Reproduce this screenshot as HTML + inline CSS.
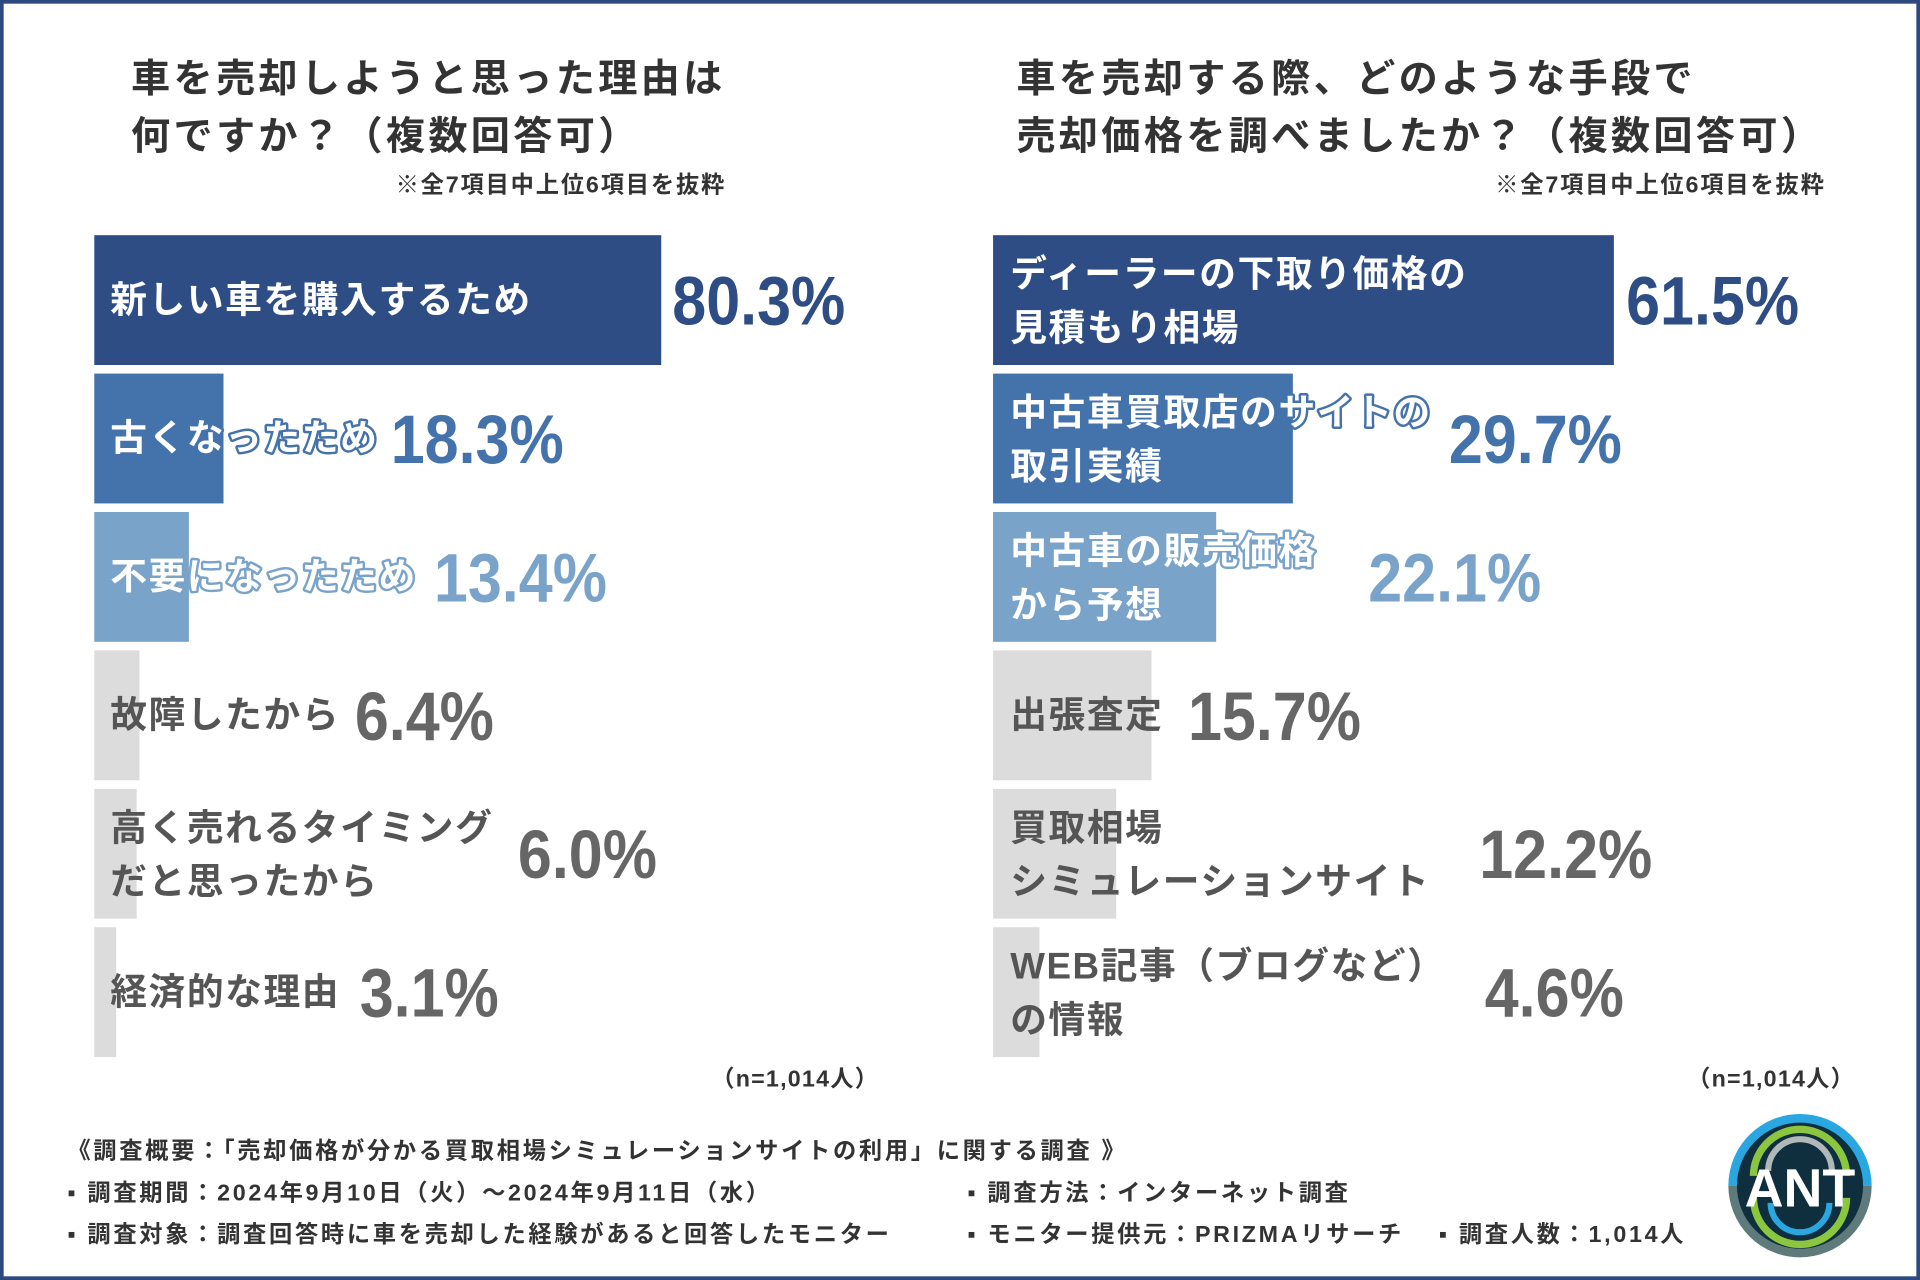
<!DOCTYPE html>
<html><head><meta charset="utf-8">
<style>
html,body{margin:0;padding:0;background:#fff;}
svg{display:block;}
text{font-family:"Liberation Sans","Noto Sans CJK JP",sans-serif;font-weight:bold;}
.val{font-family:"Liberation Sans",sans-serif;font-weight:bold;}
</style></head>
<body>
<svg id="chart" width="1920" height="1280" viewBox="0 0 1568 1045" preserveAspectRatio="none" xmlns="http://www.w3.org/2000/svg">
<rect x="1.5" y="1.5" width="1565" height="1042" fill="#fff" stroke="#2c4a80" stroke-width="3"/>
<g fill="#333" font-size="32" letter-spacing="2.7">
<text x="107" y="75">車を売却しようと思った理由は</text>
<text x="107" y="122">何ですか？（複数回答可）</text>
</g>
<text x="593" y="157" font-size="19" letter-spacing="1.5" fill="#333" text-anchor="end">※全7項目中上位6項目を抜粋</text>
<g fill="#333" font-size="32" letter-spacing="2.7">
<text x="830" y="75">車を売却する際、どのような手段で</text>
<text x="830" y="122">売却価格を調べましたか？（複数回答可）</text>
</g>
<text x="1491" y="157" font-size="19" letter-spacing="1.5" fill="#333" text-anchor="end">※全7項目中上位6項目を抜粋</text>
<g id="leftG"></g>
<g id="rightG"></g>
<text x="718" y="887" font-size="19" letter-spacing="1" fill="#333" text-anchor="end">（n=1,014人）</text>
<text x="1515" y="887" font-size="19" letter-spacing="1" fill="#333" text-anchor="end">（n=1,014人）</text>
<g font-size="19" letter-spacing="2.2" fill="#333">
<text x="55" y="946">《調査概要：「売却価格が分かる買取相場シミュレーションサイトの利用」に関する調査 》</text>
<text x="55" y="980">▪ 調査期間：2024年9月10日（火）～2024年9月11日（水）</text>
<text x="790" y="980">▪ 調査方法：インターネット調査</text>
<text x="55" y="1014">▪ 調査対象：調査回答時に車を売却した経験があると回答したモニター</text>
<text x="790" y="1014">▪ モニター提供元：PRIZMAリサーチ</text>
<text x="1175" y="1014">▪ 調査人数：1,014人</text>
</g>
<g fill="none">
<circle cx="1470" cy="968" r="52" fill="#0f2f3f"/>
<path d="M1415 968 A55 55 0 0 1 1525 968" stroke="#2aa7e0" stroke-width="7"/>
<path d="M1415 968 A55 55 0 0 0 1525 968" stroke="#5f7a7a" stroke-width="7"/>
<path d="M1432 960 A38 38 0 0 1 1508 960" stroke="#8cc63f" stroke-width="6"/>
<path d="M1432 978 A38 38 0 0 0 1508 978" stroke="#8cc63f" stroke-width="6"/>
<path d="M1444 956 A26 26 0 0 1 1496 956" stroke="#b0b8b8" stroke-width="5"/>
<path d="M1446 982 A24 24 0 0 0 1494 982" stroke="#2aa7e0" stroke-width="5"/>
<text x="1470" y="985" font-size="44" fill="#fff" text-anchor="middle" font-weight="bold" style="font-family:'Liberation Sans',sans-serif">ANT</text>
</g>
</svg>
<script>
const leftLabels=[["新しい車を購入するため"],["古くなったため"],["不要になったため"],["故障したから"],["高く売れるタイミング","だと思ったから"],["経済的な理由"]];
const leftValues=[80.3,18.3,13.4,6.4,6.0,3.1];
const rightLabels=[["ディーラーの下取り価格の","見積もり相場"],["中古車買取店のサイトの","取引実績"],["中古車の販売価格","から予想"],["出張査定"],["買取相場","シミュレーションサイト"],["WEB記事（ブログなど）","の情報"]];
const rightValues=[61.5,29.7,22.1,15.7,12.2,4.6];
const colors=["#2e4d85","#4472ab","#7aa3c9","#dcdcdc","#dcdcdc","#dcdcdc"];
const valColors=["#2e4d85","#4472ab","#7aa3c9","#666","#666","#666"];
const NS="http://www.w3.org/2000/svg";
function draw(g,labels,values,x0,pxPer,labelX,gaps,prefix){
  const xs=v=>v*pxPer;
  const rowY=i=>192+i*113;
  for(let i=0;i<values.length;i++){
    const y=rowY(i), w=xs(values[i]);
    const r=document.createElementNS(NS,'rect');
    r.setAttribute('x',x0);r.setAttribute('y',y);r.setAttribute('width',w);r.setAttribute('height',106);r.setAttribute('fill',colors[i]);
    
    
    g.appendChild(r);
    const t=document.createElementNS(NS,'text');
    t.setAttribute('font-size','30');
    t.setAttribute('letter-spacing','1.3');
    const gray=i>=3;
    t.setAttribute('fill',gray?'#555':'#fff');
    if(!gray){t.setAttribute('stroke',colors[i]);t.setAttribute('stroke-width','4');t.setAttribute('paint-order','stroke');t.setAttribute('stroke-linejoin','round');}
    
    
    const ls=labels[i];
    const baseY=ls.length===1?y+63:y+42;
    ls.forEach((s,k)=>{const sp=document.createElementNS(NS,'tspan');sp.setAttribute('x',labelX);sp.setAttribute('y',baseY+k*44);sp.textContent=s;t.appendChild(sp);});
    g.appendChild(t);
    let le=labelX;try{let m=0;t.querySelectorAll('tspan').forEach(sp=>{m=Math.max(m,sp.getComputedTextLength());});le=labelX+m;}catch(e){}
    const vx=Math.max(x0+w,le)+gaps[i];
    const v=document.createElementNS(NS,'text');
    v.setAttribute('class','val');v.setAttribute('x',vx);v.setAttribute('y',y+73);v.setAttribute('font-size','56');v.setAttribute('fill',valColors[i]);
    
    
    v.textContent=values[i].toFixed(1)+'%';
    g.appendChild(v);
    try{const L=v.getComputedTextLength();v.setAttribute('textLength',L*0.89);v.setAttribute('lengthAdjust','spacingAndGlyphs');}catch(e){}
  }
}
draw(document.getElementById('leftG'),leftLabels,leftValues,77,5.766,90,[9,10,14,12,20,16],'left');
draw(document.getElementById('rightG'),rightLabels,rightValues,811,8.244,825,[10,14,42,20,40,32],'right');
</script>
</body></html>
